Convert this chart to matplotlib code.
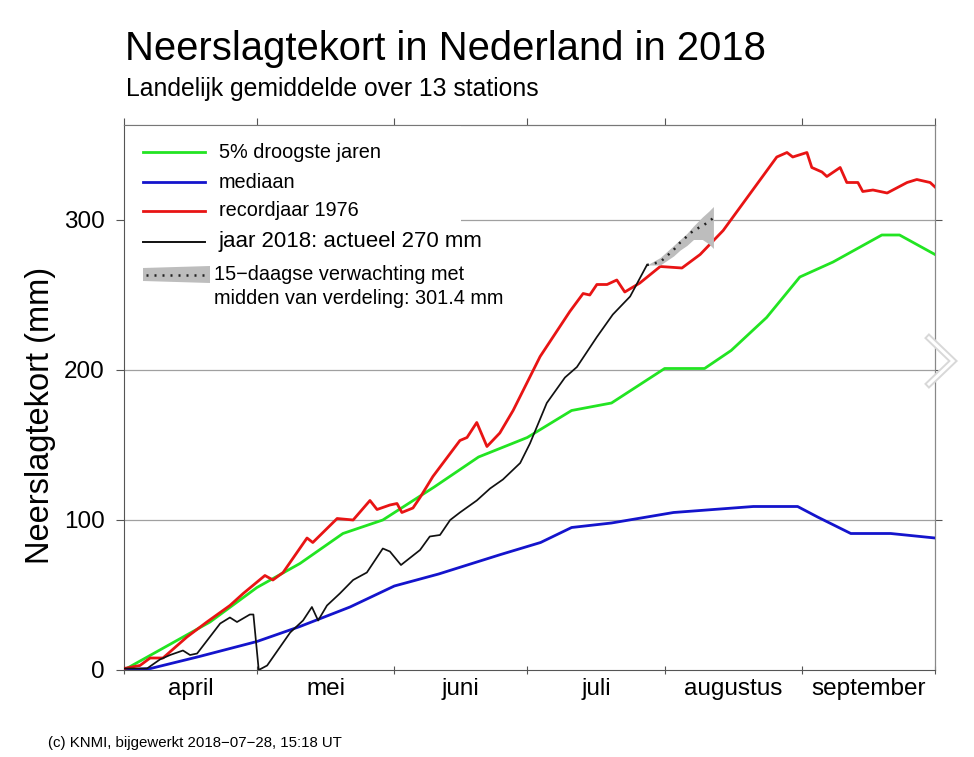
import numpy as np
import matplotlib
matplotlib.use('Agg')
from matplotlib import pyplot as plt
from matplotlib.patches import Rectangle, Polygon
from matplotlib.lines import Line2D

plt.rcParams['font.family'] = ['Liberation Sans', 'DejaVu Sans']

# x = days since 1 april
months = ['april', 'mei', 'juni', 'juli', 'augustus', 'september']
month_len = [30, 31, 30, 31, 31, 30]

green_days = [0, 19.4, 30, 39.7, 49.4, 58.4, 70, 80, 91, 101, 110, 122, 131, 137, 145, 152.5, 160, 171, 175, 183]
green_vals = [0, 32, 55, 71, 91, 100, 122, 142, 155, 173, 178, 201, 201, 213, 235, 262, 272, 290, 290, 277]

blue_days = [0, 6, 17, 30, 39.7, 51, 61, 71, 85, 94, 101, 110, 124, 142, 152, 156.5, 164, 173, 183]
blue_vals = [0, 1, 9, 19, 29, 42, 56, 64, 77, 85, 95, 98, 105, 109, 109, 102, 91, 91, 88]

red_days = [0, 3.6, 5.9, 8.8, 14.2, 18.7, 23.9, 26.9, 31.8, 33.6, 35.9, 41.3, 42.6, 48.1, 51.7,
            55.5, 57.1, 60, 61.6, 62.7, 65.2, 66.8, 69.7, 75.8, 77.4, 79.6, 81.9, 84.8, 87.8,
            93.9, 100.6, 103.6, 105.1, 106.7, 109, 111.2, 113, 116.4, 121, 125.9, 130, 135.2,
            147.3, 149.6, 150.9, 154.1, 155.2, 157.5, 158.6, 161.6, 163.1, 165.6, 166.7, 169,
            172.2, 176.7, 178.9, 181.9, 183]
red_vals = [1, 3, 8, 8, 22, 32, 43, 51, 63, 60, 65, 88, 85, 101, 100,
            113, 107, 110, 111, 105, 108, 115, 129, 153, 155, 165, 149, 158, 173,
            209, 239, 251, 250, 257, 257, 260, 252, 258, 269, 268, 277, 293,
            342, 345, 342, 345, 335, 332, 329, 335, 325, 325, 319, 320,
            318, 325, 327, 325, 322]

black_days = [0, 5.2, 8.1, 10.4, 13.3, 14.9, 16.5, 21.7, 23.9, 25.5, 28.4, 29.2, 30.4, 32.3,
              37.5, 40.4, 42.4, 43.8, 45.8, 48.7, 51.7, 54.8, 58.4, 60, 62.5, 66.8, 69, 71.3,
              73.6, 75.8, 79.6, 82.6, 85.5, 89.4, 91.6, 95.4, 99.5, 102.2, 106.7, 110.3,
              114.2, 118]
black_vals = [1, 1, 7, 10, 13, 10, 11, 31, 35, 32, 37, 37, 0, 3,
              25, 33, 42, 33, 43, 51, 60, 65, 81, 79, 70, 80, 89, 90,
              100, 105, 113, 121, 127, 138, 151, 178, 195, 202, 222, 237,
              249, 270]

fc_days = [118, 121, 122.5, 124, 125.5, 127, 128.5, 130.5, 132, 133]
fc_mid = [270, 272, 276, 280, 285, 289, 293, 296, 299, 301.4]
fc_lo = [270, 270, 273, 276, 280, 283, 287, 287, 284, 281]
fc_hi = [270, 275, 279, 283, 287, 291, 296, 302, 306, 309]

W, H = 974, 757
fig = plt.figure(figsize=(W / 100, H / 100), dpi=100)
L, R, T, B = 124, 935, 125, 670
ax = fig.add_axes([L / W, 1 - B / H, (R - L) / W, (B - T) / H])

xmax = sum(month_len)
ymax = (B - T) / 1.5
ax.set_xlim(0, xmax)
ax.set_ylim(0, ymax)

for v in [100, 200, 300]:
    ax.axhline(v, color='#a0a0a0', lw=0.9, zorder=1)

ax.plot(green_days, green_vals, color='#22e422', lw=2.0, zorder=3)
ax.plot(blue_days, blue_vals, color='#1414cc', lw=2.0, zorder=3)
ax.plot(red_days, red_vals, color='#e81414', lw=2.0, zorder=3)
ax.fill_between(fc_days, fc_lo, fc_hi, color='#bdbdbd', lw=0, zorder=3.5)
ax.plot(fc_days, fc_mid, color='#222222', lw=1.8, linestyle=(0, (0.8, 2.4)), zorder=3.6)
ax.plot(black_days, black_vals, color='#111111', lw=1.25, zorder=4)

# ticks
edges = np.concatenate([[0], np.cumsum(month_len)])
mids = (edges[:-1] + edges[1:]) / 2
ax.set_xticks(edges)
ax.set_xticklabels([])
ax.set_xticks(mids, minor=True)
ax.set_xticklabels(months, minor=True)
ax.tick_params(axis='x', which='major', direction='inout', length=6, color='#555555')
ax.tick_params(axis='x', which='minor', length=0, pad=6, labelsize=17.5)
ax.set_yticks([0, 100, 200, 300])
ax.tick_params(axis='y', direction='out', length=6, pad=8, labelsize=17.5, color='#555555')

top = ax.secondary_xaxis('top')
top.set_xticks(edges)
top.set_xticklabels([])
top.tick_params(direction='out', length=5, color='#555555')
top.spines['top'].set_color('#777777')
right = ax.secondary_yaxis('right')
right.set_yticks([100, 200, 300])
right.set_yticklabels([])
right.tick_params(direction='out', length=5, color='#555555')
right.spines['right'].set_color('#888888')

for s in ['left', 'bottom']:
    ax.spines[s].set_color('#555555')
ax.spines['right'].set_color('#888888')
ax.spines['top'].set_color('#777777')


def axp(px, py):
    return ((px - L) / (R - L), (B - py) / (B - T))


# legend
ax.add_patch(Rectangle(axp(L + 1, 312), (460 - L) / (R - L), (312 - T - 1) / (B - T),
                       transform=ax.transAxes, facecolor='white', edgecolor='none', zorder=2))
leg = [('5% droogste jaren', '#22e422', 2.0, 152, 14.3),
       ('mediaan', '#1414cc', 2.0, 182, 14.3),
       ('recordjaar 1976', '#e81414', 2.0, 211, 14.3),
       ('jaar 2018: actueel 270 mm', '#111111', 1.4, 242, 16)]
for label, col, lw, py, fs in leg:
    x0, y0 = axp(143, py)
    x1, _ = axp(205, py)
    ax.plot([x0, x1], [y0, y0], color=col, lw=lw, transform=ax.transAxes, zorder=5)
    tx, ty = axp(219, py)
    ax.text(tx, ty, label, transform=ax.transAxes, fontsize=fs, va='center', ha='left', zorder=5)

band = [axp(143, 268), axp(210, 266), axp(210, 283), axp(143, 281)]
ax.add_patch(Polygon(band, closed=True, transform=ax.transAxes, facecolor='#bdbdbd',
                     edgecolor='none', zorder=5))
x0, y0 = axp(146, 275)
x1, _ = axp(207, 275)
ax.plot([x0, x1], [y0, y0], color='#222222', lw=1.8, linestyle=(0, (0.8, 2.4)),
        transform=ax.transAxes, zorder=6)
tx, ty = axp(214, 274)
ax.text(tx, ty, '15\u2212daagse verwachting met', transform=ax.transAxes, fontsize=14.3,
        va='center', ha='left', zorder=6)
tx, ty = axp(214, 299)
ax.text(tx, ty, 'midden van verdeling: 301.4 mm', transform=ax.transAxes, fontsize=14.3,
        va='center', ha='left', zorder=6)

# titles
fig.text(125 / W, 1 - 60 / H, 'Neerslagtekort in Nederland in 2018', fontsize=28.8,
         ha='left', va='baseline')
fig.text(126 / W, 1 - 96 / H, 'Landelijk gemiddelde over 13 stations', fontsize=17.8,
         ha='left', va='baseline')
fig.text(41 / W, 1 - 415 / H, 'Neerslagtekort (mm)', fontsize=23.5, rotation=90,
         ha='center', va='center')
fig.text(48 / W, 1 - 747 / H, '(c) KNMI, bijgewerkt 2018\u221207\u221228, 15:18 UT',
         fontsize=10.8, ha='left', va='baseline')

# carousel arrow at right edge
chev_x = [929 / W, 953 / W, 929 / W]
chev_y = [1 - 338 / H, 1 - 361 / H, 1 - 384 / H]
fig.add_artist(Line2D(chev_x, chev_y, color='#d8d8d8', lw=5, solid_joinstyle='miter'))
fig.add_artist(Line2D(chev_x, chev_y, color='white', lw=2.2, solid_joinstyle='miter'))

fig.savefig('out.png', dpi=100)
